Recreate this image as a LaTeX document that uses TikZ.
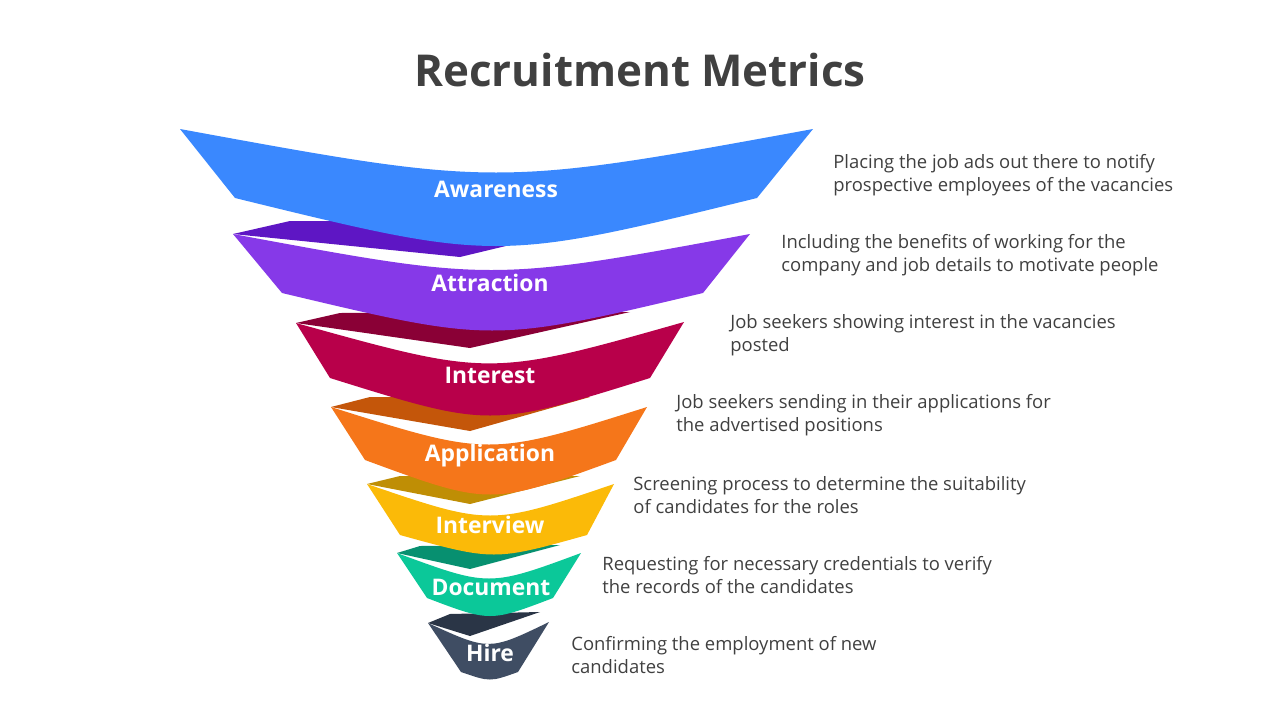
\documentclass[tikz,border=0pt]{standalone}
\usepackage{fontspec}
\setmainfont{Open Sans}
\usetikzlibrary{positioning}
\definecolor{txtgray}{HTML}{404040}
\definecolor{awarec}{HTML}{3A88FE}
\definecolor{attrc}{HTML}{8639E8}\definecolor{attrd}{HTML}{5E16C4}
\definecolor{intc}{HTML}{B8004A}\definecolor{intd}{HTML}{8A0036}
\definecolor{appc}{HTML}{F5761A}\definecolor{appd}{HTML}{C4560A}
\definecolor{ivc}{HTML}{FBBA08}\definecolor{ivd}{HTML}{BF8E05}
\definecolor{docc}{HTML}{0BC899}\definecolor{docd}{HTML}{079070}
\definecolor{hirec}{HTML}{3F4D63}\definecolor{hired}{HTML}{2A3546}
\begin{document}
\begin{tikzpicture}[x=0.02cm, y=-0.02cm,
  label/.style={text=white, font=\bfseries\fontsize{13}{15}\selectfont},
  desc/.style={anchor=west, align=left, text=txtgray, inner sep=0pt,
    font=\fontsize{10.5}{13}\selectfont}
]
  \useasboundingbox (0,0) rectangle (1280,720);
  \node[text=txtgray, font=\bfseries\fontsize{25}{30}\selectfont] (title) at (640,70) {Recruitment Metrics};

  % hire
  \fill[hired] (428,623) -- (450,614) -- (540,612) -- (470,636) -- cycle;
  \fill[hirec] (428,623) .. controls (489,651) .. (549,622) -- (518,672)
    .. controls (490,682) .. (461,672) -- cycle;
  % document
  \fill[docd] (397,553) -- (420,546) -- (560,545) -- (470,569) -- cycle;
  \fill[docc] (397,553) .. controls (489,587) .. (581,553) -- (553,598)
    .. controls (490,622) .. (427,598) -- cycle;
  % interview
  \fill[ivd] (367,484) -- (400,476) -- (580,476) -- (470,504) -- cycle;
  \fill[ivc] (367,484) .. controls (490,526) .. (614,484) -- (587,535)
    .. controls (494,561) .. (400,535) -- cycle;
  % application
  \fill[appd] (331,407) -- (370,397) -- (590,397) -- (470,431) -- cycle;
  \fill[appc] (331,407) .. controls (489,457) .. (647,407) -- (616,460)
    .. controls (490,506) .. (365,460) -- cycle;
  % interest
  \fill[intd] (296,323) -- (340,313) -- (630,312) -- (470,348) -- cycle;
  \fill[intc] (296,323) .. controls (490,377) .. (684,322) -- (650,378)
    .. controls (490,428) .. (330,378) -- cycle;
  % attraction
  \fill[attrd] (233,234) -- (290,221) -- (610,221) -- (460,257) -- cycle;
  \fill[attrc] (233,234) .. controls (491,282) .. (750,234) -- (703,293)
    .. controls (492,343) .. (282,293) -- cycle;
  % awareness
  \fill[awarec] (180,129) .. controls (496,187) .. (813,129) -- (757,198)
    .. controls (496,262) .. (235,198) -- cycle;

  \node[label] (aware) at (496,189) {Awareness};
  \node[label] (attr) at (490,283) {Attraction};
  \node[label] (inter) at (490,375) {Interest};
  \node[label] (appl) at (490,456) {Application};
  \node[label] (intv) at (490,525) {Interview};
  \node[label] (docu) at (491,587) {Document};
  \node[label] (hire) at (490,653) {Hire};

  \node[desc] (awaretxt) at (833,175) {Placing the job ads out there to notify\\prospective employees of the vacancies};
  \node[desc] (attrtxt) at (781,255) {Including the benefits of working for the\\company and job details to motivate people};
  \node[desc] (intertxt) at (730,335) {Job seekers showing interest in the vacancies\\posted};
  \node[desc] (appltxt) at (676,415) {Job seekers sending in their applications for\\the advertised positions};
  \node[desc] (intvtxt) at (633,495) {Screening process to determine the suitability\\of candidates for the roles};
  \node[desc] (docutxt) at (602,575) {Requesting for necessary credentials to verify\\the records of the candidates};
  \node[desc] (hiretxt) at (571,655) {Confirming the employment of new\\candidates};
\end{tikzpicture}
\end{document}
